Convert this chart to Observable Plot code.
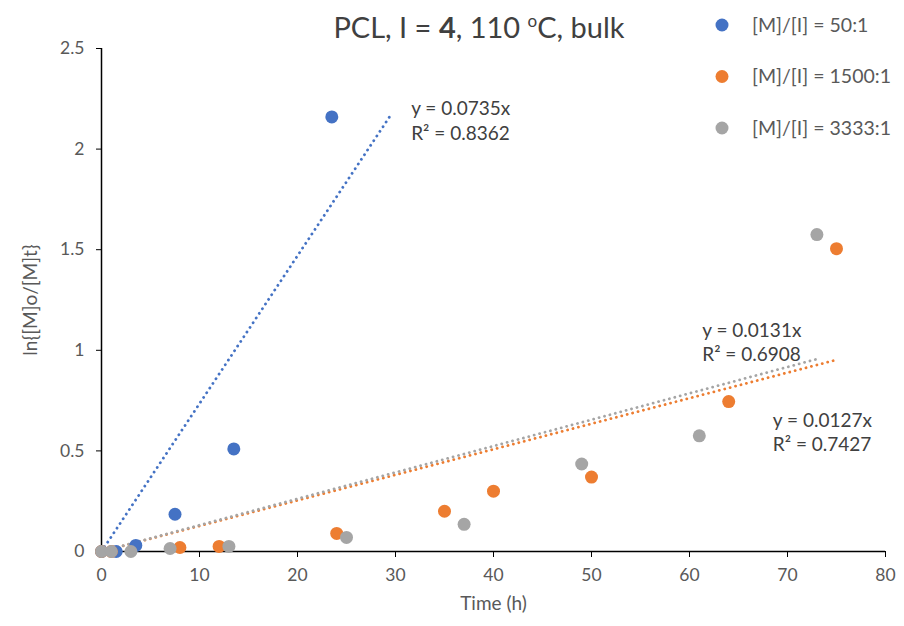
<!DOCTYPE html>
<html>
<head>
<meta charset="utf-8">
<script src="https://cdn.jsdelivr.net/npm/d3@7"></script>
<script src="https://cdn.jsdelivr.net/npm/@observablehq/plot@0.6"></script>
<style>
  html, body { margin: 0; padding: 0; background: #fff; }
  #chart { width: 904px; height: 626px; }
</style>
</head>
<body>
<div id="chart"></div>
<script>
// ---- Data ----
const seriesNames = ["[M]/[I] = 50:1", "[M]/[I] = 1500:1", "[M]/[I] = 3333:1"];
const seriesColors = ["#4472C4", "#ED7D31", "#A5A5A5"];

const time50 = [0, 1.5, 3.5, 7.5, 13.5, 23.5];
const val50  = [0, 0, 0.03, 0.185, 0.51, 2.16];

const time1500 = [0, 1, 8, 12, 24, 35, 40, 50, 64, 75];
const val1500  = [0, 0, 0.02, 0.025, 0.09, 0.2, 0.3, 0.37, 0.745, 1.505];

const time3333 = [0, 1, 3, 7, 13, 25, 37, 49, 61, 73];
const val3333  = [0, 0, 0, 0.015, 0.025, 0.07, 0.135, 0.435, 0.575, 1.575];

// linear trendlines through origin (y = a·x)
const trendSlopes = [0.0735, 0.0127, 0.0131];
const trendEnd    = [29.5, 75, 73];
const trendLabels = ["y = 0.0735x\nR² = 0.8362", "y = 0.0127x\nR² = 0.7427", "y = 0.0131x\nR² = 0.6908"];
const labelX = [31.6, 68.5, 61.3];
const labelY = [2.147, 0.599, 1.046];

const xTicks = [0, 10, 20, 30, 40, 50, 60, 70, 80];
const yTicks = [0, 0.5, 1, 1.5, 2, 2.5];
const xLabel = "Time (h)";
const yLabel = "ln{[M]o/[M]t}";

// ---- Build tables ----
const times = [time50, time1500, time3333];
const vals = [val50, val1500, val3333];
const points = [];
times.forEach((ts, s) => ts.forEach((t, i) => points.push({s, t, v: vals[s][i]})));
const trends = [];
trendSlopes.forEach((a, s) => {
  trends.push({s, t: 0, v: 0});
  trends.push({s, t: trendEnd[s], v: a * trendEnd[s]});
});
const labels = trendLabels.map((txt, s) => ({s, x: labelX[s], y: labelY[s], txt}));

const FONT = "Lato, 'Open Sans', sans-serif";
const TEXT = "#595959";

const chart = Plot.plot({
  width: 904,
  height: 626,
  marginLeft: 101,
  marginRight: 19,
  marginTop: 48,
  marginBottom: 75,
  style: {fontFamily: FONT, fontSize: "17.5px", color: TEXT, background: "#fff"},
  x: {domain: [0, 80]},
  y: {domain: [0, 2.5]},
  marks: [
    Plot.axisX({ticks: xTicks, tickSize: 6, tickPadding: 11, stroke: "#000", fill: TEXT,
      tickFormat: d => String(d), label: null, fontSize: 17.5}),
    Plot.axisY({ticks: yTicks, tickSize: 5, tickPadding: 12, stroke: "#000", fill: TEXT,
      tickFormat: d => String(d), label: null, fontSize: 17.5}),
    Plot.text([xLabel], {frameAnchor: "bottom", dy: 58, fontSize: 19, fill: TEXT}),
    Plot.text([yLabel], {frameAnchor: "left", textAnchor: "middle", rotate: -90, dx: -71, fontSize: 19, fill: TEXT}),
    Plot.ruleX([0], {stroke: "#000", strokeWidth: 1.5}),
    Plot.ruleY([0], {stroke: "#000", strokeWidth: 1.5}),
    Plot.line(trends, {x: "t", y: "v", z: "s", stroke: d => seriesColors[d.s], strokeWidth: 2.8,
      strokeDasharray: "0.1 5.5", strokeLinecap: "round"}),
    Plot.dot(points, {x: "t", y: "v", r: 6.5, fill: d => seriesColors[d.s], stroke: "none"}),
    Plot.text(labels, {x: "x", y: "y", text: "txt", textAnchor: "start", lineAnchor: "middle",
      lineHeight: 1.3, fontSize: 19, fill: "#404040"})
  ]
});

const svg = d3.select(chart);
// Title
const title = svg.append("text")
  .attr("x", 479).attr("y", 38)
  .attr("text-anchor", "middle")
  .attr("font-family", FONT).attr("font-size", 29).attr("fill", "#404040");
title.append("tspan").text("PCL, I = ");
title.append("tspan").attr("font-weight", "bold").text("4");
title.append("tspan").text(", 110 ");
title.append("tspan").attr("font-size", 17).attr("dy", -11).text("o");
title.append("tspan").attr("dy", 11).text("C, bulk");

// Legend
const legend = svg.append("g");
seriesNames.forEach((name, i) => {
  const cy = 25 + i * 51.5;
  legend.append("circle").attr("cx", 722).attr("cy", cy).attr("r", 6.5).attr("fill", seriesColors[i]);
  legend.append("text").attr("x", 752).attr("y", cy).attr("dy", "0.35em")
    .attr("text-anchor", "start").attr("font-family", FONT).attr("font-size", 19.5)
    .attr("fill", TEXT).text(name);
});

document.getElementById("chart").appendChild(chart);
</script>
</body>
</html>
